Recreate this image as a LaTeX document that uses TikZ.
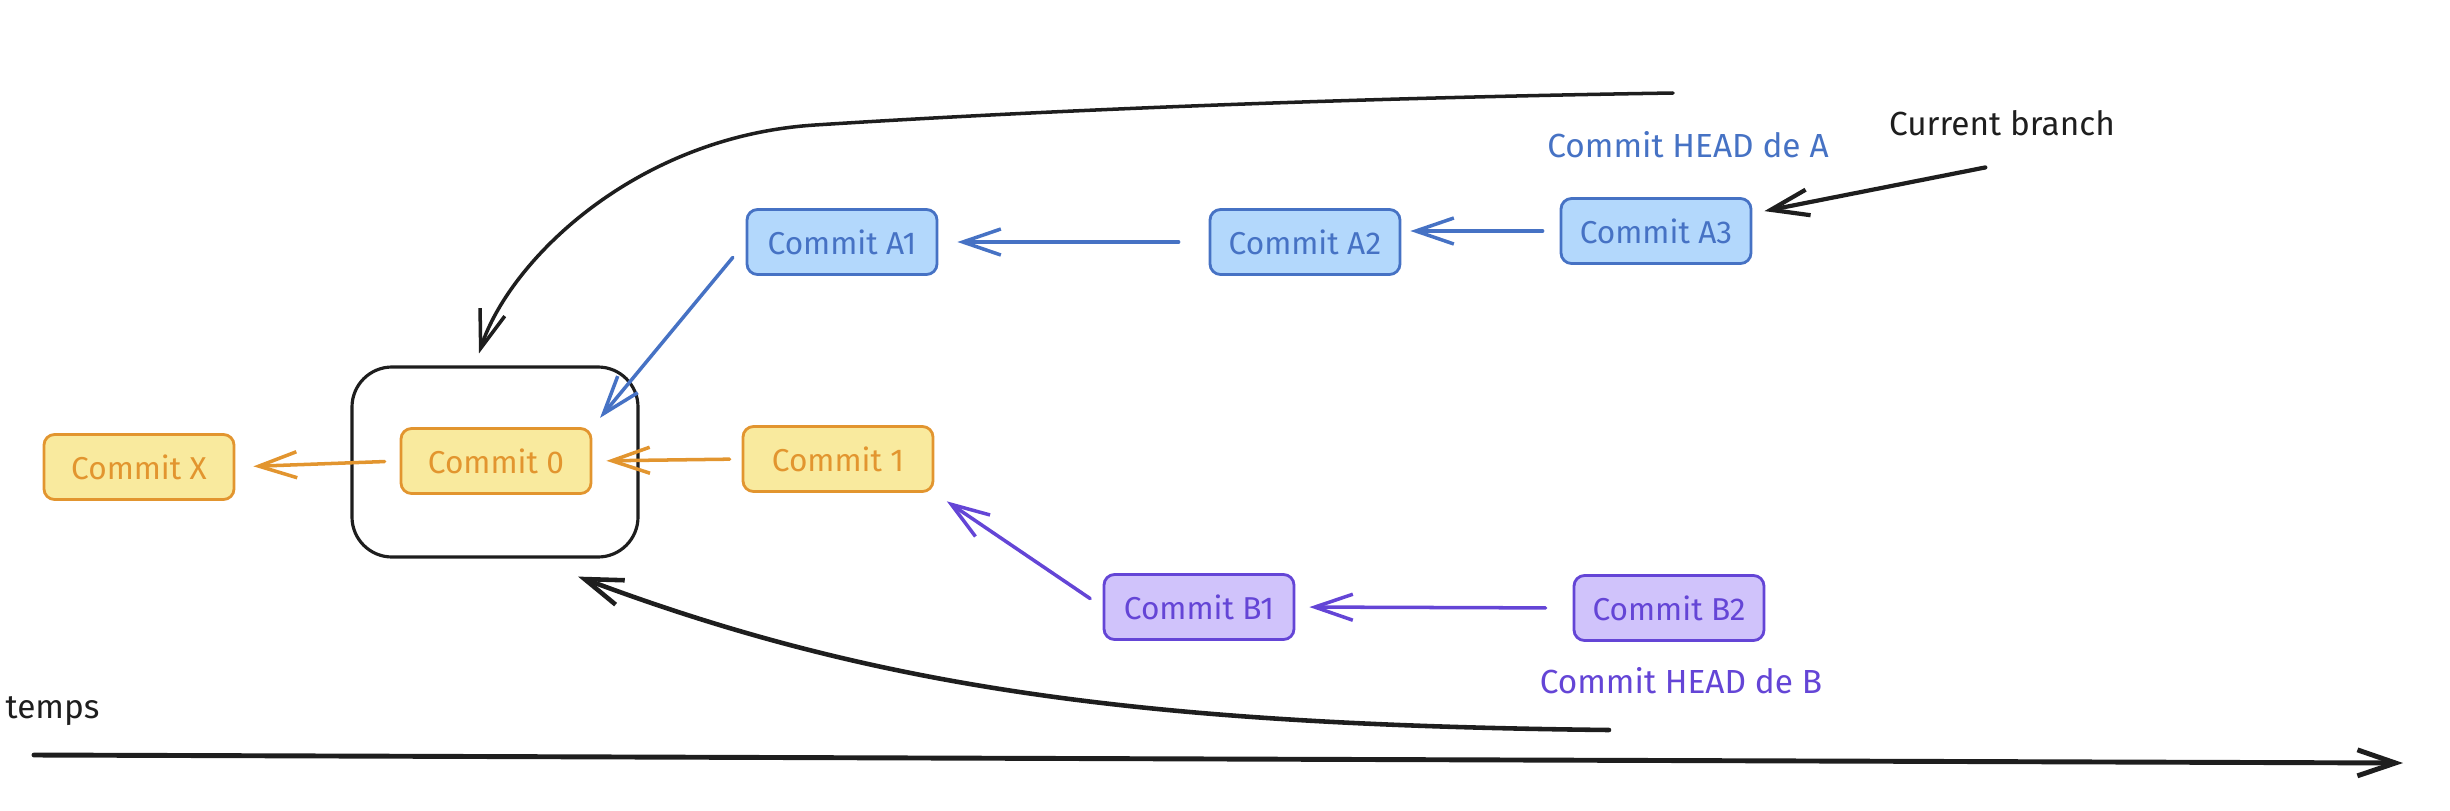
\documentclass[tikz,border=0pt]{standalone}
\usepackage{fontspec}
\setmainfont{Fira Sans}
\usetikzlibrary{arrows.meta}
\definecolor{noir}{HTML}{1E1E1E}
\definecolor{orangec}{HTML}{E2952F}
\definecolor{jaunef}{HTML}{F9EA9E}
\definecolor{bleuc}{HTML}{4672C4}
\definecolor{bleuf}{HTML}{B3D8FC}
\definecolor{violetc}{HTML}{6445D6}
\definecolor{violetf}{HTML}{D0C3FB}
\begin{document}
\begin{tikzpicture}[>={Straight Barb[length=3.8mm,width=2.6mm]},line cap=round,
  commit/.style={rounded corners=3pt,line width=0.8pt,minimum width=1.9cm,minimum height=0.65cm,inner sep=0pt,font=\fontsize{9}{10}\selectfont},
  cjaune/.style={commit,draw=orangec,fill=jaunef,text=orangec},
  cbleu/.style={commit,draw=bleuc,fill=bleuf,text=bleuc},
  cviolet/.style={commit,draw=violetc,fill=violetf,text=violetc},
  etiq/.style={font=\fontsize{9.5}{11}\selectfont},
  fleche/.style={->,line width=1pt}]
\useasboundingbox (0,0) rectangle (24.5,8.1);
% les commits
\node[draw=noir,rounded corners=0.4cm,line width=0.9pt,minimum width=2.86cm,minimum height=1.9cm] (cadre) at (4.95,3.48) {};
\node[cjaune] (cX) at (1.39,3.43) {Commit X};
\node[cjaune] (c0) at (4.96,3.49) {Commit 0};
\node[cjaune] (c1) at (8.38,3.51) {Commit 1};
\node[cbleu] (a1) at (8.42,5.68) {Commit A1};
\node[cbleu] (a2) at (13.05,5.68) {Commit A2};
\node[cbleu] (a3) at (16.56,5.79) {Commit A3};
\node[cviolet] (b1) at (11.99,2.03) {Commit B1};
\node[cviolet] (b2) at (16.69,2.02) {Commit B2};
% textes
\node[etiq,text=bleuc] (headA) at (16.88,6.65) {Commit HEAD de A};
\node[etiq,text=violetc] (headB) at (16.81,1.29) {Commit HEAD de B};
\node[etiq,text=noir] (branche) at (20.02,6.87) {Current branch};
\node[etiq,text=noir,anchor=west,inner sep=0pt] (temps) at (0.05,0.99) {temps};
% fleches entre commits
\draw[fleche,bleuc,shorten <=0.17cm,shorten >=0.09cm] (a3.west) -- (a2.east |- a3);
\draw[fleche,bleuc,shorten <=0.3cm,shorten >=0.19cm] (a2.west) -- (a1.east);
\draw[fleche,bleuc,shorten <=0.2cm,shorten >=0.12cm] (a1.west) -- (c0.north east);
\draw[fleche,orangec,shorten <=0.12cm,shorten >=0.14cm] (c1.west) -- (c0.east);
\draw[fleche,orangec,shorten <=0.15cm,shorten >=0.18cm] (c0.west) -- (cX.east);
\draw[fleche,violetc,shorten <=0.15cm,shorten >=0.15cm] (b1.west) -- (c1.south east);
\draw[fleche,violetc,shorten <=0.27cm,shorten >=0.14cm] (b2.west) -- (b1.east);
\draw[fleche,noir,line width=1.2pt,shorten <=0.17cm] ([yshift=-0.16cm]branche.south) -- ([xshift=0.12cm,yshift=-0.14cm]a3.north east);
% courbes et axe du temps
\coordinate (hautdebut) at (16.73,7.17);
\coordinate (basdebut) at (16.09,0.80);
\draw[fleche,noir] (hautdebut) .. controls (13.5,7.12) and (10.5,7.0) .. (8.15,6.85) .. controls (6.35,6.735) and (5.09,5.49) .. ([shift={(-0.16,0.12)}]cadre.north);
\draw[fleche,noir,line width=1.3pt] (basdebut) .. controls (11.5,0.85) and (8.8,1.2) .. ([shift={(0.83,-0.18)}]cadre.south);
\coordinate (t0) at (0.34,0.55);
\coordinate (t1) at (24.03,0.47);
\draw[fleche,noir,line width=1.4pt] (t0) -- (t1);
\end{tikzpicture}
\end{document}
